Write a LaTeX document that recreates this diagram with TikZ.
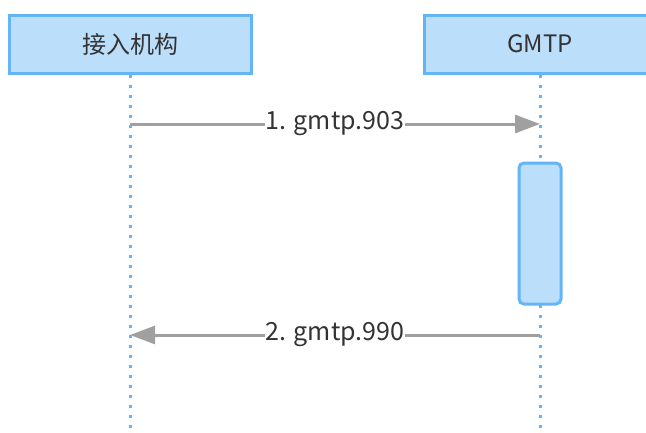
\documentclass[tikz,border=0pt]{standalone}
\usepackage{fontspec}
\setmainfont{Noto Sans CJK SC}
\usepackage{xcolor}
\usetikzlibrary{arrows.meta, positioning}
\definecolor{boxfill}{HTML}{BBDEFB}
\definecolor{boxline}{HTML}{64B5F6}
\definecolor{msgline}{HTML}{A0A0A0}
\definecolor{msgtext}{HTML}{333333}
\tikzset{
  actor/.style={draw=boxline, fill=boxfill, line width=3pt, minimum height=58pt,
    text=msgtext, font=\fontsize{24}{28}\selectfont},
  lifeline/.style={boxline, line width=3pt, dash pattern=on 3pt off 7pt},
  msg/.style={msgline, line width=3pt, -{Triangle[length=25pt, width=18pt]}},
  msglabel/.style={fill=white, text=msgtext, inner sep=1pt, font=\fontsize{25}{28}\selectfont}
}

\begin{document}
\begin{tikzpicture}[x=1pt, y=-1pt]
\useasboundingbox (0,0) rectangle (646,432);

\node[actor, minimum width=242pt] (agency) at (130,44) {接入机构};
\node[actor, minimum width=232pt] (gmtp) at (540,44) {GMTP};

\coordinate (agencyend) at (130,432);
\coordinate (gmtpend) at (540,432);
\draw[lifeline] (agency.south) -- (agencyend);
\draw[lifeline] (gmtp.south) -- (gmtpend);

\draw[draw=boxline, fill=boxfill, line width=3pt, rounded corners=5pt] (519,163) rectangle (561,304);

\coordinate (a1) at (130,124);
\coordinate (g1) at (540,124);
\coordinate (a2) at (130,335);
\coordinate (g2) at (540,335);
\draw[msg] (a1) -- node[msglabel] {1. gmtp.903} (g1);
\draw[msg] (g2) -- node[msglabel] {2. gmtp.990} (a2);

\end{tikzpicture}
\end{document}
